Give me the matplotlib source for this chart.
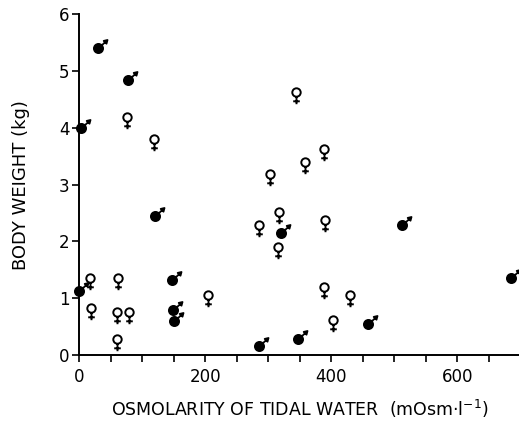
import numpy as np
import matplotlib.pyplot as plt
from matplotlib.path import Path
from matplotlib.ticker import MultipleLocator

plt.rcParams['font.family'] = ['DejaVu Sans']
plt.rcParams['mathtext.default'] = 'regular'

# males (filled symbol)
male_x = [3, 30, 77, 120, 0, 148, 149, 150, 285, 320, 347, 458, 513, 685]
male_y = [4.0, 5.4, 4.83, 2.45, 1.13, 1.32, 0.79, 0.60, 0.16, 2.15, 0.29, 0.54, 2.29, 1.35]

# females (open symbol)
female_x = [76, 119, 344, 388, 358, 303, 318, 285, 315, 390,
            17, 62, 204, 19, 60, 80, 60, 388, 430, 403]
female_y = [4.19, 3.80, 4.62, 3.62, 3.40, 3.18, 2.52, 2.29, 1.90, 2.38,
            1.35, 1.35, 1.06, 0.82, 0.76, 0.76, 0.29, 1.19, 1.06, 0.62]

DPI = 100


def male_marker():
    # units are pixels, circle centred on the data point
    circ = Path.circle((0, 0), 4.6)
    shaft = Path([(3.0, 3.0), (7.5, 7.0)], [Path.MOVETO, Path.LINETO])
    head = Path([(9.0, 8.5), (5.2, 7.6), (8.0, 4.8), (9.0, 8.5)],
                [Path.MOVETO, Path.LINETO, Path.LINETO, Path.CLOSEPOLY])
    p = Path.make_compound_path(circ, shaft, head)
    ext = np.abs(p.vertices).max()
    return p, 2 * ext * 72 / DPI


def female_marker():
    circ = Path.circle((0, 0), 4.2)
    stem = Path([(0, -4.2), (0, -11.7)], [Path.MOVETO, Path.LINETO])
    bar = Path([(-3.3, -8.8), (3.3, -8.8)], [Path.MOVETO, Path.LINETO])
    p = Path.make_compound_path(circ, stem, bar)
    ext = np.abs(p.vertices).max()
    return p, 2 * ext * 72 / DPI


fig = plt.figure(figsize=(5.19, 4.21), dpi=DPI)
ax = fig.add_axes([79 / 519, 66 / 421, 440 / 519, 341 / 421])

fm, fms = female_marker()
mm, mms = male_marker()
ax.plot(female_x, female_y, linestyle='none', marker=fm, ms=fms,
        mfc='none', mec='black', mew=1.4, clip_on=False)
ax.plot(male_x, male_y, linestyle='none', marker=mm, ms=mms,
        mfc='black', mec='black', mew=1.3, clip_on=False)

ax.set_xlim(0, 698)
ax.set_ylim(0, 6)
ax.spines['top'].set_visible(False)
ax.spines['right'].set_visible(False)
for s in ('left', 'bottom'):
    ax.spines[s].set_linewidth(1.4)

ax.xaxis.set_major_locator(MultipleLocator(200))
ax.xaxis.set_minor_locator(MultipleLocator(50))
ax.yaxis.set_major_locator(MultipleLocator(1))
ax.tick_params(axis='both', which='both', direction='out', length=5, width=1.2, labelsize=12)
ax.tick_params(axis='y', pad=2)
ax.tick_params(axis='x', pad=4)

ax.set_xlabel('OSMOLARITY OF TIDAL WATER  (mOsm·l$^{-1}$)', fontsize=12.5, va='center')
ax.xaxis.set_label_coords(0.502, -0.158)
ax.set_ylabel('BODY WEIGHT (kg)', fontsize=13, va='center')
ax.yaxis.set_label_coords(-0.132, 0.4985)

fig.savefig('out.png', dpi=DPI)
